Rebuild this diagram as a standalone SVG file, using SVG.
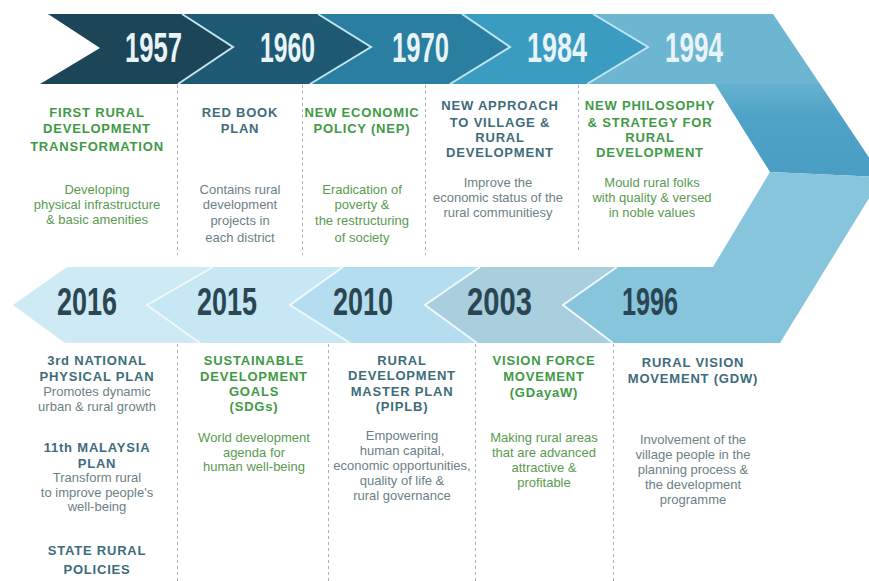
<svg xmlns="http://www.w3.org/2000/svg" width="869" height="581" viewBox="0 0 869 581">
  <style>
    .yr-top { font-family: "Liberation Sans", Arial, sans-serif; font-weight: bold; font-size: 42px; fill: #e8f4f8; }
    .yr-bot { font-family: "Liberation Sans", Arial, sans-serif; font-weight: bold; font-size: 39px; fill: #2b4653; }
    .title { font-family: "Liberation Sans", Arial, sans-serif; font-weight: bold; font-size: 13px; letter-spacing: 0.8px; text-anchor: middle; }
    .desc { font-family: "Liberation Sans", Arial, sans-serif; font-size: 13px; text-anchor: middle; }
    .tg { fill: #3f9a46; }
    .tt { fill: #3e6c7b; }
    .dg { fill: #5a9a52; }
    .dt { fill: #6c7f86; }
    .edge-top { fill: none; stroke: #c3e5f1; stroke-width: 2; stroke-linejoin: miter; }
    .edge-bot { fill: none; stroke: #f0f9fc; stroke-width: 2; stroke-linejoin: miter; }
    .sep { stroke: #a7b3b7; stroke-width: 1; stroke-dasharray: 3 3; fill: none; }
  </style>
  <defs>
    <linearGradient id="armUpper" x1="0" y1="84" x2="0" y2="175" gradientUnits="userSpaceOnUse">
      <stop offset="0" stop-color="#66b1d0"/>
      <stop offset="0.35" stop-color="#4fa3c7"/>
      <stop offset="1" stop-color="#4a9dc3"/>
    </linearGradient>
  </defs>

  <rect width="869" height="581" fill="#ffffff"/>

  <!-- upper timeline band, 1957 to 1994 -->
  <g id="node-1957">
    <polygon points="48,14 182,14 233,47 178,84 40,84 100,48" fill="#1c4658"/>
    <text class="yr-top" x="125" y="62" textLength="57" lengthAdjust="spacingAndGlyphs">1957</text>
    <text class="title tg" x="97" y="117">FIRST RURAL</text>
    <text class="title tg" x="97" y="133">DEVELOPMENT</text>
    <text class="title tg" x="97" y="151">TRANSFORMATION</text>
    <text class="desc dg" x="97" y="194">Developing</text>
    <text class="desc dg" x="97" y="209">physical infrastructure</text>
    <text class="desc dg" x="97" y="224">&amp; basic amenities</text>
  </g>

  <g id="node-1960">
    <polygon points="182,14 318,14 371,47 310,84 178,84 233,47" fill="#1e5a73"/>
    <text class="yr-top" x="260" y="62" textLength="55" lengthAdjust="spacingAndGlyphs">1960</text>
    <text class="title tt" x="240" y="117">RED BOOK</text>
    <text class="title tt" x="240" y="133">PLAN</text>
    <text class="desc dt" x="240" y="194">Contains rural</text>
    <text class="desc dt" x="240" y="209">development</text>
    <text class="desc dt" x="240" y="225">projects in</text>
    <text class="desc dt" x="240" y="242">each district</text>
  </g>

  <g id="node-1970">
    <polygon points="318,14 462,14 510,47 450,84 310,84 371,47" fill="#2a7e9f"/>
    <text class="yr-top" x="392" y="62" textLength="57" lengthAdjust="spacingAndGlyphs">1970</text>
    <text class="title tg" x="362" y="117">NEW ECONOMIC</text>
    <text class="title tg" x="362" y="133">POLICY (NEP)</text>
    <text class="desc dg" x="362" y="194">Eradication of</text>
    <text class="desc dg" x="362" y="209">poverty &amp;</text>
    <text class="desc dg" x="362" y="225">the restructuring</text>
    <text class="desc dg" x="362" y="242">of society</text>
  </g>

  <g id="node-1984">
    <polygon points="462,14 593,14 648,47 587,84 450,84 510,47" fill="#3b9cc2"/>
    <text class="yr-top" x="527" y="62" textLength="60" lengthAdjust="spacingAndGlyphs">1984</text>
    <text class="title tt" x="500" y="110">NEW APPROACH</text>
    <text class="title tt" x="500" y="127">TO VILLAGE &amp;</text>
    <text class="title tt" x="500" y="142">RURAL</text>
    <text class="title tt" x="500" y="157">DEVELOPMENT</text>
    <text class="desc dt" x="498" y="187">Improve the</text>
    <text class="desc dt" x="498" y="202">economic status of the</text>
    <text class="desc dt" x="498" y="217">rural communitiesy</text>
  </g>

  <g id="node-1994">
    <polygon points="593,14 773,14 820,84 587,84 648,47" fill="#6db6d2"/>
    <!-- turning arm of the band, upper half -->
    <polygon points="715,84 820,84 882,177 770,172" fill="url(#armUpper)"/>
    <text class="yr-top" x="665" y="62" textLength="58" lengthAdjust="spacingAndGlyphs">1994</text>
    <text class="title tg" x="650" y="110">NEW PHILOSOPHY</text>
    <text class="title tg" x="650" y="127">&amp; STRATEGY FOR</text>
    <text class="title tg" x="650" y="142">RURAL</text>
    <text class="title tg" x="650" y="157">DEVELOPMENT</text>
    <text class="desc dg" x="652" y="187">Mould rural folks</text>
    <text class="desc dg" x="652" y="202">with quality &amp; versed</text>
    <text class="desc dg" x="652" y="217">in noble values</text>
  </g>

  <!-- lower timeline band, 1996 back to 2016 -->
  <g id="node-1996">
    <polygon points="770,172 882,177 780,343 613,343 563,305 617,267 713,267" fill="#86c5db"/>
    <text class="yr-bot" x="622" y="315" textLength="56" lengthAdjust="spacingAndGlyphs">1996</text>
    <text class="title tt" x="693" y="367">RURAL VISION</text>
    <text class="title tt" x="693" y="383">MOVEMENT (GDW)</text>
    <text class="desc dt" x="693" y="444">Involvement of the</text>
    <text class="desc dt" x="693" y="459">village people in the</text>
    <text class="desc dt" x="693" y="474">planning process &amp;</text>
    <text class="desc dt" x="693" y="489">the development</text>
    <text class="desc dt" x="693" y="504">programme</text>
  </g>

  <g id="node-2003">
    <polygon points="480,267 617,267 563,305 613,343 477,343 425,305" fill="#a9cedd"/>
    <text class="yr-bot" x="467" y="315" textLength="65" lengthAdjust="spacingAndGlyphs">2003</text>
    <text class="title tg" x="544" y="365">VISION FORCE</text>
    <text class="title tg" x="544" y="381">MOVEMENT</text>
    <text class="title tg" x="544" y="397">(GDayaW)</text>
    <text class="desc dg" x="544" y="442">Making rural areas</text>
    <text class="desc dg" x="544" y="457">that are advanced</text>
    <text class="desc dg" x="544" y="472">attractive &amp;</text>
    <text class="desc dg" x="544" y="487">profitable</text>
  </g>

  <g id="node-2010">
    <polygon points="343,267 480,267 425,305 477,343 350,343 290,305" fill="#b4ddef"/>
    <text class="yr-bot" x="333" y="315" textLength="60" lengthAdjust="spacingAndGlyphs">2010</text>
    <text class="title tt" x="402" y="365">RURAL</text>
    <text class="title tt" x="402" y="380">DEVELOPMENT</text>
    <text class="title tt" x="402" y="396">MASTER PLAN</text>
    <text class="title tt" x="402" y="411">(PIPLB)</text>
    <text class="desc dt" x="402" y="440">Empowering</text>
    <text class="desc dt" x="402" y="455">human capital,</text>
    <text class="desc dt" x="402" y="470">economic opportunities,</text>
    <text class="desc dt" x="402" y="485">quality of life &amp;</text>
    <text class="desc dt" x="402" y="500">rural governance</text>
  </g>

  <g id="node-2015">
    <polygon points="213,267 343,267 290,305 350,343 200,343 147,305" fill="#c7e7f4"/>
    <text class="yr-bot" x="197" y="315" textLength="60" lengthAdjust="spacingAndGlyphs">2015</text>
    <text class="title tg" x="254" y="365">SUSTAINABLE</text>
    <text class="title tg" x="254" y="381">DEVELOPMENT</text>
    <text class="title tg" x="254" y="396">GOALS</text>
    <text class="title tg" x="254" y="411">(SDGs)</text>
    <text class="desc dg" x="254" y="442">World development</text>
    <text class="desc dg" x="254" y="457">agenda for</text>
    <text class="desc dg" x="254" y="471">human well-being</text>
  </g>

  <g id="node-2016">
    <polygon points="67,267 213,267 147,305 200,343 65,343 13,305" fill="#cdeaf5"/>
    <text class="yr-bot" x="57" y="315" textLength="60" lengthAdjust="spacingAndGlyphs">2016</text>
    <text class="title tt" x="97" y="365">3rd NATIONAL</text>
    <text class="title tt" x="97" y="381">PHYSICAL PLAN</text>
    <text class="desc dt" x="97" y="396">Promotes dynamic</text>
    <text class="desc dt" x="97" y="411">urban &amp; rural growth</text>
    <text class="title tt" x="97" y="452">11th MALAYSIA</text>
    <text class="title tt" x="97" y="468">PLAN</text>
    <text class="desc dt" x="97" y="482">Transform rural</text>
    <text class="desc dt" x="97" y="497">to improve people's</text>
    <text class="desc dt" x="97" y="511">well-being</text>
    <text class="title tt" x="97" y="555">STATE RURAL</text>
    <text class="title tt" x="97" y="574">POLICIES</text>
  </g>

  <!-- chevron seams and dashed column dividers -->
  <g id="connectors">
    <polyline class="edge-top" points="182,14 233,47 178,84"/>
    <polyline class="edge-top" points="318,14 371,47 310,84"/>
    <polyline class="edge-top" points="462,14 510,47 450,84"/>
    <polyline class="edge-top" points="593,14 648,47 587,84"/>
    <polyline class="edge-bot" points="213,267 147,305 200,343"/>
    <polyline class="edge-bot" points="343,267 290,305 350,343"/>
    <polyline class="edge-bot" points="480,267 425,305 477,343"/>
    <polyline class="edge-bot" points="617,267 563,305 613,343"/>
    <line class="sep" x1="177.5" y1="85" x2="177.5" y2="255"/>
    <line class="sep" x1="302.5" y1="85" x2="302.5" y2="255"/>
    <line class="sep" x1="425.5" y1="85" x2="425.5" y2="255"/>
    <line class="sep" x1="578.5" y1="85" x2="578.5" y2="250"/>
    <line class="sep" x1="177.5" y1="344" x2="177.5" y2="581"/>
    <line class="sep" x1="328.5" y1="344" x2="328.5" y2="581"/>
    <line class="sep" x1="475.5" y1="344" x2="475.5" y2="581"/>
    <line class="sep" x1="613.5" y1="344" x2="613.5" y2="581"/>
  </g>
</svg>
